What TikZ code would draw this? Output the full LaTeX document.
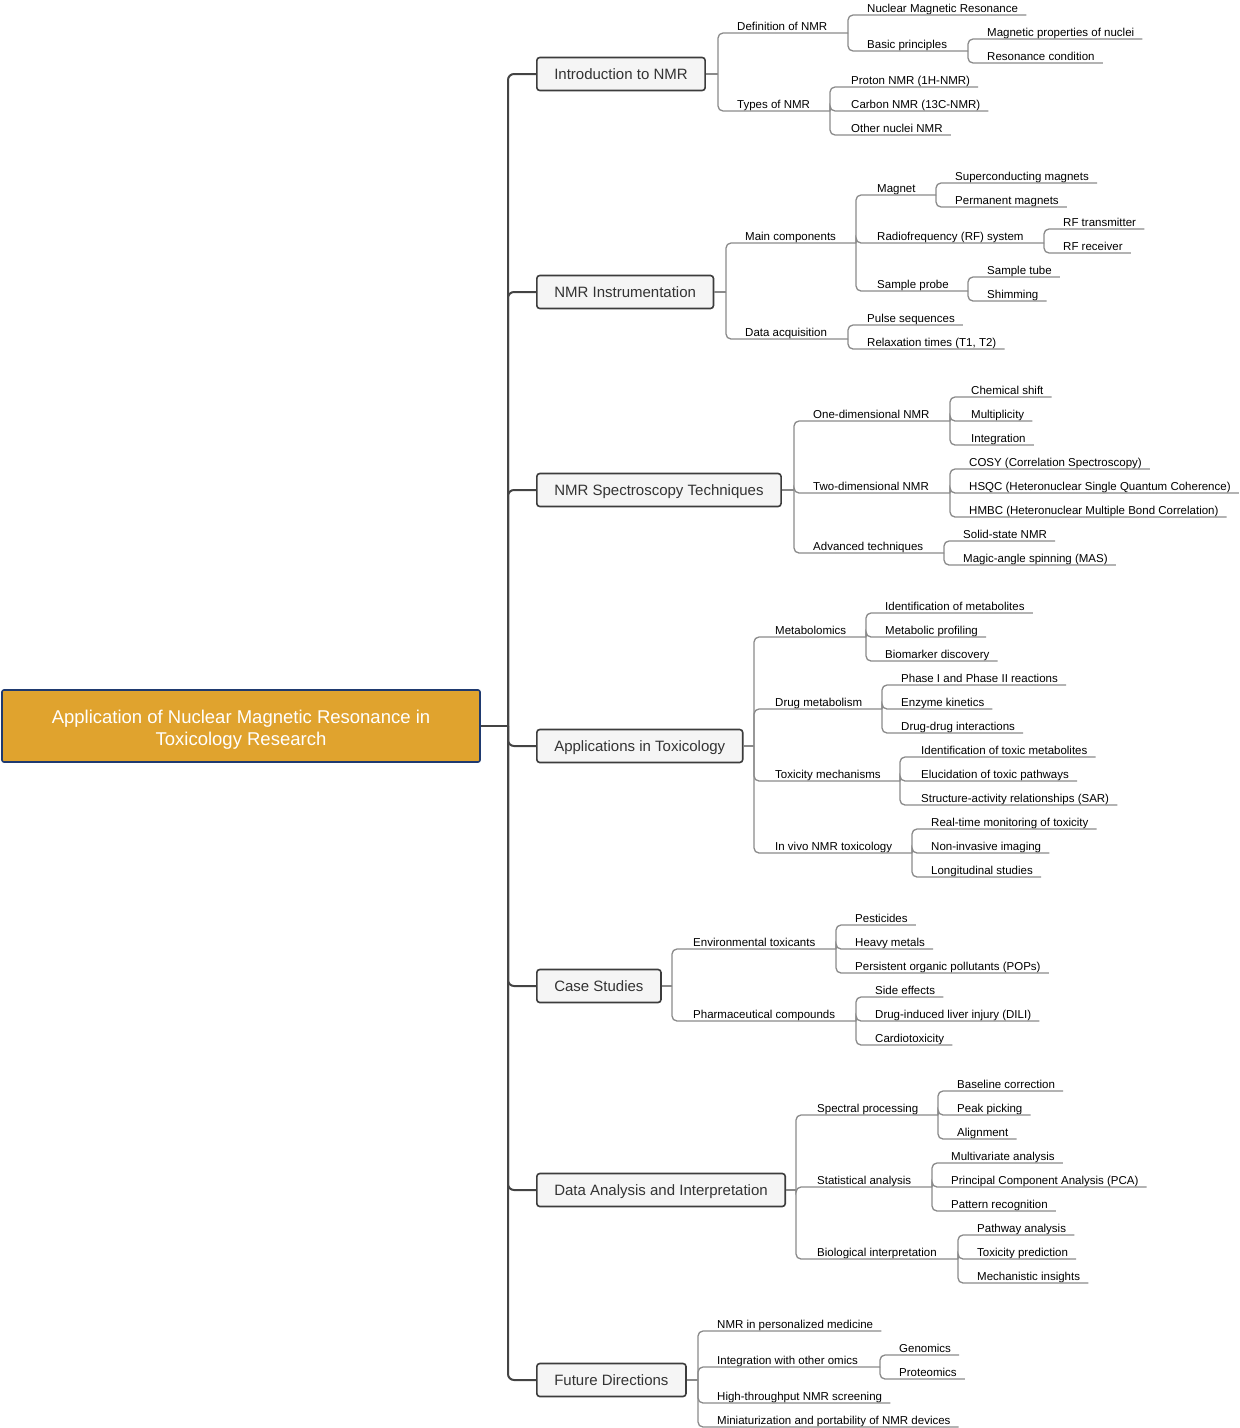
\documentclass[tikz,border=0pt]{standalone}
\usepackage{fontspec}
\setmainfont{Liberation Sans}
\definecolor{rootfill}{HTML}{E0A32E}
\definecolor{rootline}{HTML}{1F3A70}
\definecolor{boxfill}{HTML}{F5F5F5}
\definecolor{boxline}{HTML}{3C3C3C}
\definecolor{boxtext}{HTML}{333333}
\definecolor{linkgray}{HTML}{8A8A8A}
\definecolor{trunkgray}{HTML}{444444}
\begin{document}
\begin{tikzpicture}[x=1pt,y=-1pt,
	root/.style={draw=rootline,fill=rootfill,line width=1.6pt,rounded corners=2pt,minimum width=478pt,minimum height=72pt,align=center,text height=39.3pt,text depth=0pt,text=white,font=\fontsize{18.5}{22}\selectfont},
	topic/.style={draw=boxline,fill=boxfill,line width=1.6pt,rounded corners=3pt,anchor=west,inner xsep=17.5pt,minimum height=33pt,text height=10.7pt,text depth=0pt,text=boxtext,font=\fontsize{15}{18}\selectfont},
	leaf/.style={anchor=south west,inner xsep=0pt,inner ysep=0.5pt,text height=8.5pt,text depth=2.3pt,font=\fontsize{11.5}{13}\selectfont},
	trunk/.style={draw=trunkgray,line width=2pt,rounded corners=6pt},
	link/.style={draw=linkgray,line width=1.3pt,rounded corners=5pt}]
	\useasboundingbox (0,0) rectangle (1240,1428);

	% root and trunk
	\node[root] (root) at (241,726) {Application of Nuclear Magnetic Resonance in\\Toxicology Research};
	\coordinate (root-j) at (508,726);
	\draw[trunk] (root) -- (root-j);

	% Introduction to NMR
	\node[topic] (intro) at (536,74) {Introduction to NMR};
	\coordinate (intro-j) at (718,74);
	\draw[trunk] (root-j) |- (intro);
	\draw[link] (intro) -- (intro-j);
	\node[leaf] (def) at (737,33) {Definition of NMR};
	\coordinate (def-j) at (848,33);
	\draw[link] (intro-j) |- (def-j);
	\node[leaf] (nmrfull) at (867,15) {Nuclear Magnetic Resonance};
	\draw[link] (def-j) |- ([xshift=8pt]nmrfull.south east);
	\node[leaf] (basic) at (867,51) {Basic principles};
	\coordinate (basic-j) at (968,51);
	\draw[link] (def-j) |- (basic-j);
	\foreach \n/\y/\t in {magprop/39/Magnetic properties of nuclei, rescond/63/Resonance condition}{
		\node[leaf] (\n) at (987,\y) {\t};
		\draw[link] (basic-j) |- ([xshift=8pt]\n.south east);
	}
	\node[leaf] (types) at (737,111) {Types of NMR};
	\coordinate (types-j) at (830,111);
	\draw[link] (intro-j) |- (types-j);
	\foreach \n/\y/\t in {proton/87/Proton NMR (1H-NMR), carbon/111/Carbon NMR (13C-NMR), other/135/Other nuclei NMR}{
		\node[leaf] (\n) at (851,\y) {\t};
		\draw[link] (types-j) |- ([xshift=8pt]\n.south east);
	}

	% NMR Instrumentation
	\node[topic] (instr) at (536,292) {NMR Instrumentation};
	\coordinate (instr-j) at (726,292);
	\draw[trunk] (root-j) |- (instr);
	\draw[link] (instr) -- (instr-j);
	\node[leaf] (maincomp) at (745,243) {Main components};
	\coordinate (maincomp-j) at (856,243);
	\draw[link] (instr-j) |- (maincomp-j);
	\node[leaf] (magnet) at (877,195) {Magnet};
	\coordinate (magnet-j) at (936,195);
	\draw[link] (maincomp-j) |- (magnet-j);
	\foreach \n/\y/\t in {supercond/183/Superconducting magnets, permanent/207/Permanent magnets}{
		\node[leaf] (\n) at (955,\y) {\t};
		\draw[link] (magnet-j) |- ([xshift=8pt]\n.south east);
	}
	\node[leaf] (rfsys) at (877,243) {Radiofrequency (RF) system};
	\coordinate (rfsys-j) at (1044,243);
	\draw[link] (maincomp-j) |- (rfsys-j);
	\foreach \n/\y/\t in {rftx/229/RF transmitter, rfrx/253/RF receiver}{
		\node[leaf] (\n) at (1063,\y) {\t};
		\draw[link] (rfsys-j) |- ([xshift=8pt]\n.south east);
	}
	\node[leaf] (probe) at (877,291) {Sample probe};
	\coordinate (probe-j) at (968,291);
	\draw[link] (maincomp-j) |- (probe-j);
	\foreach \n/\y/\t in {tube/277/Sample tube, shim/301/Shimming}{
		\node[leaf] (\n) at (987,\y) {\t};
		\draw[link] (probe-j) |- ([xshift=8pt]\n.south east);
	}
	\node[leaf] (dataacq) at (745,339) {Data acquisition};
	\coordinate (dataacq-j) at (848,339);
	\draw[link] (instr-j) |- (dataacq-j);
	\foreach \n/\y/\t in {pulse/325/Pulse sequences, relax/349/{Relaxation times (T1, T2)}}{
		\node[leaf] (\n) at (867,\y) {\t};
		\draw[link] (dataacq-j) |- ([xshift=8pt]\n.south east);
	}

	% NMR Spectroscopy Techniques
	\node[topic] (spec) at (536,490) {NMR Spectroscopy Techniques};
	\coordinate (spec-j) at (794,490);
	\draw[trunk] (root-j) |- (spec);
	\draw[link] (spec) -- (spec-j);
	\node[leaf] (oned) at (813,421) {One-dimensional NMR};
	\coordinate (oned-j) at (950,421);
	\draw[link] (spec-j) |- (oned-j);
	\foreach \n/\y/\t in {chemshift/397/Chemical shift, multi/421/Multiplicity, integ/445/Integration}{
		\node[leaf] (\n) at (971,\y) {\t};
		\draw[link] (oned-j) |- ([xshift=8pt]\n.south east);
	}
	\node[leaf] (twod) at (813,493) {Two-dimensional NMR};
	\coordinate (twod-j) at (950,493);
	\draw[link] (spec-j) |- (twod-j);
	\foreach \n/\y/\t in {cosy/469/COSY (Correlation Spectroscopy), hsqc/493/HSQC (Heteronuclear Single Quantum Coherence), hmbc/517/HMBC (Heteronuclear Multiple Bond Correlation)}{
		\node[leaf] (\n) at (969,\y) {\t};
		\draw[link] (twod-j) |- ([xshift=8pt]\n.south east);
	}
	\node[leaf] (adv) at (813,553) {Advanced techniques};
	\coordinate (adv-j) at (944,553);
	\draw[link] (spec-j) |- (adv-j);
	\foreach \n/\y/\t in {solid/541/Solid-state NMR, mas/565/Magic-angle spinning (MAS)}{
		\node[leaf] (\n) at (963,\y) {\t};
		\draw[link] (adv-j) |- ([xshift=8pt]\n.south east);
	}

	% Applications in Toxicology
	\node[topic] (appl) at (536,746) {Applications in Toxicology};
	\coordinate (appl-j) at (754,746);
	\draw[trunk] (root-j) |- (appl);
	\draw[link] (appl) -- (appl-j);
	\node[leaf] (metab) at (775,637) {Metabolomics};
	\coordinate (metab-j) at (866,637);
	\draw[link] (appl-j) |- (metab-j);
	\foreach \n/\y/\t in {idmet/613/Identification of metabolites, profiling/637/Metabolic profiling, biomarker/661/Biomarker discovery}{
		\node[leaf] (\n) at (885,\y) {\t};
		\draw[link] (metab-j) |- ([xshift=8pt]\n.south east);
	}
	\node[leaf] (drugmet) at (775,709) {Drug metabolism};
	\coordinate (drugmet-j) at (882,709);
	\draw[link] (appl-j) |- (drugmet-j);
	\foreach \n/\y/\t in {phase/685/Phase I and Phase II reactions, enzyme/709/Enzyme kinetics, ddi/733/Drug-drug interactions}{
		\node[leaf] (\n) at (901,\y) {\t};
		\draw[link] (drugmet-j) |- ([xshift=8pt]\n.south east);
	}
	\node[leaf] (toxmech) at (775,781) {Toxicity mechanisms};
	\coordinate (toxmech-j) at (900,781);
	\draw[link] (appl-j) |- (toxmech-j);
	\foreach \n/\y/\t in {idtox/757/Identification of toxic metabolites, pathways/781/Elucidation of toxic pathways, sar/805/Structure-activity relationships (SAR)}{
		\node[leaf] (\n) at (921,\y) {\t};
		\draw[link] (toxmech-j) |- ([xshift=8pt]\n.south east);
	}
	\node[leaf] (invivo) at (775,853) {In vivo NMR toxicology};
	\coordinate (invivo-j) at (912,853);
	\draw[link] (appl-j) |- (invivo-j);
	\foreach \n/\y/\t in {realtime/829/Real-time monitoring of toxicity, noninv/853/Non-invasive imaging, longit/877/Longitudinal studies}{
		\node[leaf] (\n) at (931,\y) {\t};
		\draw[link] (invivo-j) |- ([xshift=8pt]\n.south east);
	}

	% Case Studies
	\node[topic] (cases) at (536,986) {Case Studies};
	\coordinate (cases-j) at (672,986);
	\draw[trunk] (root-j) |- (cases);
	\draw[link] (cases) -- (cases-j);
	\node[leaf] (envtox) at (693,949) {Environmental toxicants};
	\coordinate (envtox-j) at (836,949);
	\draw[link] (cases-j) |- (envtox-j);
	\foreach \n/\y/\t in {pest/925/Pesticides, heavy/949/Heavy metals, pops/973/Persistent organic pollutants (POPs)}{
		\node[leaf] (\n) at (855,\y) {\t};
		\draw[link] (envtox-j) |- ([xshift=8pt]\n.south east);
	}
	\node[leaf] (pharma) at (693,1021) {Pharmaceutical compounds};
	\coordinate (pharma-j) at (856,1021);
	\draw[link] (cases-j) |- (pharma-j);
	\foreach \n/\y/\t in {side/997/Side effects, dili/1021/Drug-induced liver injury (DILI), cardio/1045/Cardiotoxicity}{
		\node[leaf] (\n) at (875,\y) {\t};
		\draw[link] (pharma-j) |- ([xshift=8pt]\n.south east);
	}

	% Data Analysis and Interpretation
	\node[topic] (data) at (536,1190) {Data Analysis and Interpretation};
	\coordinate (data-j) at (796,1190);
	\draw[trunk] (root-j) |- (data);
	\draw[link] (data) -- (data-j);
	\node[leaf] (specproc) at (817,1115) {Spectral processing};
	\coordinate (specproc-j) at (938,1115);
	\draw[link] (data-j) |- (specproc-j);
	\foreach \n/\y/\t in {baseline/1091/Baseline correction, peak/1115/Peak picking, align/1139/Alignment}{
		\node[leaf] (\n) at (957,\y) {\t};
		\draw[link] (specproc-j) |- ([xshift=8pt]\n.south east);
	}
	\node[leaf] (statan) at (817,1187) {Statistical analysis};
	\coordinate (statan-j) at (932,1187);
	\draw[link] (data-j) |- (statan-j);
	\foreach \n/\y/\t in {multivar/1163/Multivariate analysis, pca/1187/Principal Component Analysis (PCA), pattern/1211/Pattern recognition}{
		\node[leaf] (\n) at (951,\y) {\t};
		\draw[link] (statan-j) |- ([xshift=8pt]\n.south east);
	}
	\node[leaf] (bioint) at (817,1259) {Biological interpretation};
	\coordinate (bioint-j) at (958,1259);
	\draw[link] (data-j) |- (bioint-j);
	\foreach \n/\y/\t in {pathway/1235/Pathway analysis, toxpred/1259/Toxicity prediction, mech/1283/Mechanistic insights}{
		\node[leaf] (\n) at (977,\y) {\t};
		\draw[link] (bioint-j) |- ([xshift=8pt]\n.south east);
	}

	% Future Directions
	\node[topic] (future) at (536,1380) {Future Directions};
	\coordinate (future-j) at (698,1380);
	\draw[trunk] (root-j) |- (future);
	\draw[link] (future) -- (future-j);
	\node[leaf] (omics) at (717,1367) {Integration with other omics};
	\coordinate (omics-j) at (880,1367);
	\draw[link] (future-j) |- (omics-j);
	\foreach \n/\y/\t in {genomics/1355/Genomics, proteomics/1379/Proteomics}{
		\node[leaf] (\n) at (899,\y) {\t};
		\draw[link] (omics-j) |- ([xshift=8pt]\n.south east);
	}
	\foreach \n/\y/\t in {persmed/1331/NMR in personalized medicine, htscreen/1403/High-throughput NMR screening, mini/1427/Miniaturization and portability of NMR devices}{
		\node[leaf] (\n) at (717,\y) {\t};
		\draw[link] (future-j) |- ([xshift=8pt]\n.south east);
	}
\end{tikzpicture}
\end{document}
